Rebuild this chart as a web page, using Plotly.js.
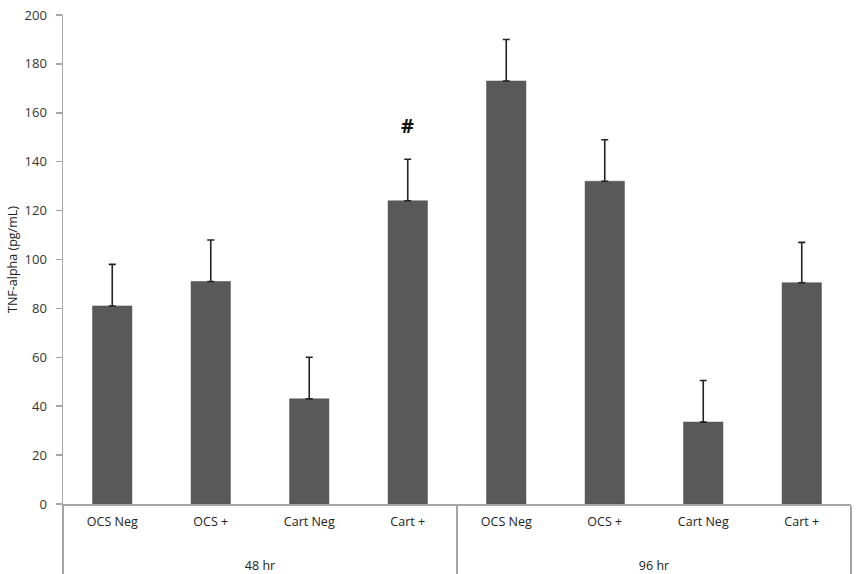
<!DOCTYPE html>
<html>
<head>
<meta charset="utf-8">
<script src="https://cdn.plot.ly/plotly-3.0.1.min.js"></script>
<style>html,body{margin:0;padding:0;background:#fff;}#chart{width:861px;height:574px;}</style>
</head>
<body>
<div id="chart"></div>
<script>
const groups = ["48 hr","48 hr","48 hr","48 hr","96 hr","96 hr","96 hr","96 hr"];
const categories = ["OCS Neg","OCS +","Cart Neg","Cart +","OCS Neg","OCS +","Cart Neg","Cart +"];
const values = [81, 91, 43, 124, 173, 132, 33.5, 90.5];
const errors = [17, 17, 17, 17, 17, 17, 17, 16.5];
const yTicks = [0,20,40,60,80,100,120,140,160,180,200];
const markText = "#";
const markIndex = 3;
const markValue = 155;

const trace = {
  type: "bar",
  x: [groups.map(g => "<br>" + g), categories.map(c => c + "<br><span style='font-size:6px'> </span>")],
  y: values,
  width: 0.4,
  marker: {color: "#595959", line: {color: "#4d4d4d", width: 0.5}},
  error_y: {type: "data", array: errors, symmetric: false, arrayminus: errors.map(()=>0), color: "#222", thickness: 1.6, width: 3.5},
  hoverinfo: "none"
};

const layout = {
  width: 861, height: 574,
  margin: {l: 63, r: 10, t: 15, b: 70},
  paper_bgcolor: "#fff", plot_bgcolor: "#fff",
  font: {family: "Open Sans, Liberation Sans, sans-serif", size: 12, color: "#333"},
  showlegend: false,
  xaxis: {
    type: "multicategory",
    showline: true, linecolor: "#a6a6a6", linewidth: 1.5,
    showdividers: true, dividercolor: "#a6a6a6", dividerwidth: 1.5,
    ticks: "", showgrid: false, ticklabelstandoff: 5,
    tickfont: {size: 12.5, color: "#222"}
  },
  yaxis: {
    range: [0, 200],
    tickvals: yTicks,
    ticks: "outside", ticklen: 6, tickcolor: "#a6a6a6", tickwidth: 1.5,
    showline: true, linecolor: "#a6a6a6", linewidth: 1.5,
    showgrid: false, zeroline: false, ticklabelstandoff: 6,
    tickfont: {size: 13, color: "#333"},
    title: {text: "TNF-alpha (pg/mL)", font: {size: 12.5, color: "#222"}, standoff: 4}
  },
  annotations: [{
    x: markIndex, xref: "x", yref: "y", y: markValue, showarrow: false,
    text: "<b>" + markText + "</b>", font: {size: 20, color: "#111"}
  }]
};
Plotly.newPlot("chart", [trace], layout, {displayModeBar: false, staticPlot: true});
</script>
</body>
</html>
